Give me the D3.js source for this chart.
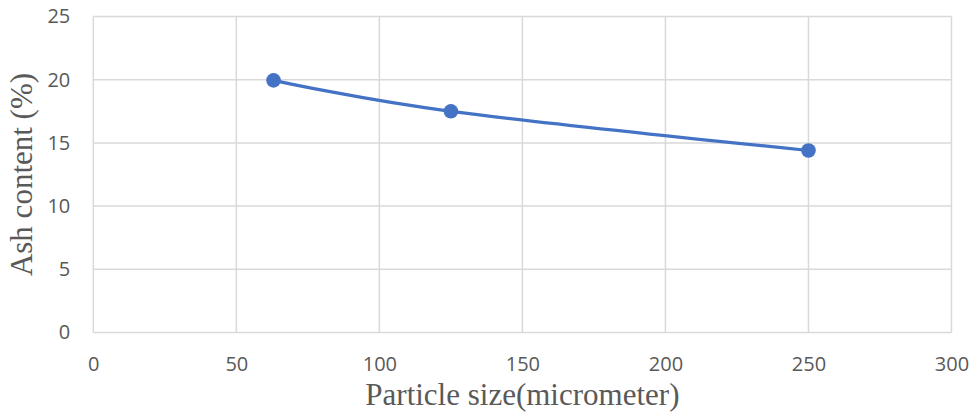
<!DOCTYPE html>
<html>
<head>
<meta charset="utf-8">
<script src="https://cdn.jsdelivr.net/npm/d3@7"></script>
<style>
  body { margin: 0; background: #fff; }
  svg { display: block; }
</style>
</head>
<body>
<svg></svg>
<script>
// data
const sizes = [63, 125, 250]
const ash = [19.95, 17.5, 14.4]
const xTicks = [0, 50, 100, 150, 200, 250, 300]
const yTicks = [0, 5, 10, 15, 20, 25]

const width = 975
const height = 419
const margin = {left: 93.3, right: 23.5, top: 16.5, bottom: 86.5}

let svg = d3.select('svg')
    .attr('width', width)
    .attr('height', height)

let xScale = d3.scaleLinear()
    .domain([0, 300])
    .range([margin.left, width - margin.right])

let yScale = d3.scaleLinear()
    .domain([0, 25])
    .range([height - margin.bottom, margin.top])

// grid
svg.append('g')
    .selectAll('line')
    .data(xTicks)
    .enter()
    .append('line')
    .attr('x1', d => xScale(d))
    .attr('x2', d => xScale(d))
    .attr('y1', yScale(0))
    .attr('y2', yScale(25))
    .attr('stroke', '#d9d9d9')
    .attr('stroke-width', 1.5)

svg.append('g')
    .selectAll('line')
    .data(yTicks)
    .enter()
    .append('line')
    .attr('x1', xScale(0))
    .attr('x2', xScale(300))
    .attr('y1', d => yScale(d))
    .attr('y2', d => yScale(d))
    .attr('stroke', '#d9d9d9')
    .attr('stroke-width', 1.5)

// axes, labels only
let xAxis = d3.axisBottom(xScale).tickValues(xTicks).tickSize(0).tickPadding(0)
let yAxis = d3.axisLeft(yScale).tickValues(yTicks).tickSize(0).tickPadding(0)

let gx = svg.append('g')
    .attr('transform', 'translate(0,' + yScale(0) + ')')
    .call(xAxis)
gx.select('.domain').remove()
gx.selectAll('text')
    .attr('y', 31)
    .attr('dy', '0.35em')

let gy = svg.append('g')
    .attr('transform', 'translate(' + (xScale(0) - 23) + ',0)')
    .call(yAxis)
gy.select('.domain').remove()

svg.selectAll('.tick text')
    .attr('fill', '#595959')
    .style('font-family', '"Open Sans", sans-serif')
    .style('font-size', '20px')

// line
let line = d3.line()
    .x(d => xScale(d[0]))
    .y(d => yScale(d[1]))
    .curve(d3.curveCardinal.tension(0))

let points = sizes.map((s, i) => [s, ash[i]])

svg.append('path')
    .datum(points)
    .attr('d', line)
    .attr('fill', 'none')
    .attr('stroke', '#4472c4')
    .attr('stroke-width', 3.2)
    .attr('stroke-linecap', 'round')

svg.selectAll('circle')
    .data(points)
    .enter()
    .append('circle')
    .attr('cx', d => xScale(d[0]))
    .attr('cy', d => yScale(d[1]))
    .attr('r', 7.3)
    .attr('fill', '#4472c4')

// titles
svg.append('text')
    .attr('x', (xScale(0) + xScale(300)) / 2)
    .attr('y', 405)
    .attr('text-anchor', 'middle')
    .attr('fill', '#595959')
    .style('font-family', '"Liberation Serif", "Times New Roman", serif')
    .style('font-size', '31px')
    .text('Particle size(micrometer)')

svg.append('text')
    .attr('transform', 'translate(32,' + ((yScale(0) + yScale(25)) / 2) + ') rotate(-90)')
    .attr('text-anchor', 'middle')
    .attr('fill', '#595959')
    .style('font-family', '"Liberation Serif", "Times New Roman", serif')
    .style('font-size', '31px')
    .text('Ash content (%)')
</script>
</body>
</html>
